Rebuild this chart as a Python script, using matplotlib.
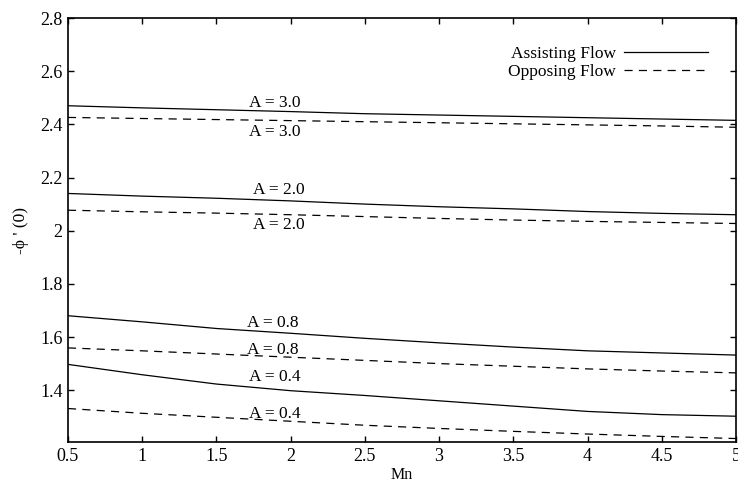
import numpy as np
import matplotlib.pyplot as plt

plt.rcParams['font.family'] = ['Liberation Serif', 'DejaVu Serif']

mn = [0.5, 1.0, 1.5, 2.0, 2.5, 3.0, 3.5, 4.0, 4.5, 5.0]

# assisting flow (solid)
assist_30 = [2.470, 2.462, 2.455, 2.448, 2.440, 2.435, 2.430, 2.425, 2.420, 2.415]
assist_20 = [2.140, 2.130, 2.122, 2.112, 2.100, 2.090, 2.082, 2.072, 2.065, 2.060]
assist_08 = [1.680, 1.657, 1.632, 1.614, 1.595, 1.578, 1.562, 1.548, 1.540, 1.532]
assist_04 = [1.497, 1.458, 1.423, 1.398, 1.380, 1.360, 1.340, 1.320, 1.308, 1.302]

# opposing flow (dashed)
oppose_30 = [2.426, 2.422, 2.418, 2.414, 2.410, 2.406, 2.402, 2.398, 2.394, 2.389]
oppose_20 = [2.077, 2.071, 2.066, 2.060, 2.053, 2.046, 2.040, 2.035, 2.031, 2.027]
oppose_08 = [1.559, 1.548, 1.536, 1.524, 1.512, 1.500, 1.490, 1.480, 1.472, 1.465]
oppose_04 = [1.331, 1.313, 1.298, 1.283, 1.268, 1.256, 1.245, 1.235, 1.226, 1.218]

labels = ['A = 3.0', 'A = 3.0', 'A = 2.0', 'A = 2.0',
          'A = 0.8', 'A = 0.8', 'A = 0.4', 'A = 0.4']
label_x = [1.895, 1.895, 1.92, 1.92, 1.88, 1.88, 1.895, 1.895]
label_y = [2.481, 2.372, 2.153, 2.021, 1.651, 1.551, 1.450, 1.310]

fig = plt.figure(figsize=(7.38, 4.87), dpi=100)
ax = fig.add_axes([0.0921, 0.0924, 0.9052, 0.8706])

lw = 0.9
dash = (6.5, 5.0)
for i, ys in enumerate([assist_30, assist_20, assist_08, assist_04]):
    ax.plot(mn, ys, color='black', lw=lw,
            label='Assisting Flow' if i == 0 else None)
for i, ys in enumerate([oppose_30, oppose_20, oppose_08, oppose_04]):
    ax.plot(mn, ys, color='black', lw=lw, dashes=dash,
            label='Opposing Flow' if i == 0 else None)

for t, x, y in zip(labels, label_x, label_y):
    ax.text(x, y, t, ha='center', va='center', fontsize=12.5)

ax.set_xlim(0.5, 5)
ax.set_ylim(1.205, 2.8)
ax.set_xticks(np.arange(0.5, 5.01, 0.5))
ax.set_xticklabels(['0.5', '1', '1.5', '2', '2.5', '3', '3.5', '4', '4.5', '5'])
ax.set_yticks([1.4, 1.6, 1.8, 2.0, 2.2, 2.4, 2.6, 2.8])
ax.set_yticklabels(['1.4', '1.6', '1.8', '2', '2.2', '2.4', '2.6', '2.8'])
ax.tick_params(direction='in', top=True, right=True, length=4, width=1.0,
               labelsize=13, pad=4)
for s in ax.spines.values():
    s.set_linewidth(1.2)

ax.set_xlabel('Mn', fontsize=11.5, labelpad=2)
ax.set_ylabel("-ϕ ' (0)", fontsize=12.5, labelpad=8)

ax.legend(loc='upper right', bbox_to_anchor=(0.968, 0.95), frameon=False,
          markerfirst=False, handlelength=4.8, handletextpad=0.5,
          labelspacing=0.1, fontsize=12.5, borderaxespad=0)

fig.savefig('out.png', dpi=100)
